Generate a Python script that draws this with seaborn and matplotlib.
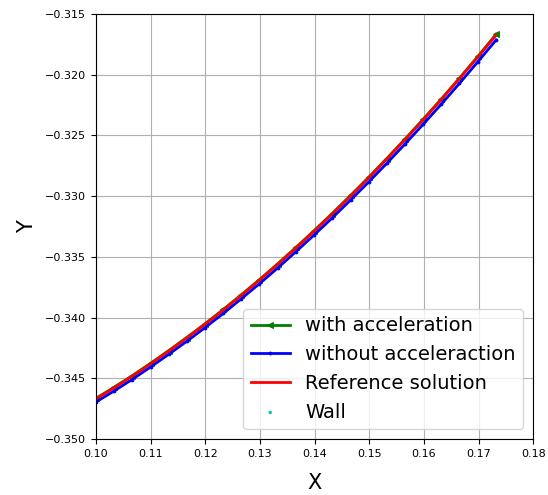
import numpy as np
import matplotlib
import matplotlib.pyplot as plt
import seaborn as sns

plt.switch_backend("Agg")

# 轨迹坐标
x_vals = [0.0966, 0.1000, 0.1033, 0.1066, 0.1100, 0.1133, 0.1166, 0.1199,
          0.1233, 0.1266, 0.1299, 0.1333, 0.1366, 0.1399, 0.1432, 0.1466,
          0.1499, 0.1532, 0.1566, 0.1599, 0.1632, 0.1665, 0.1699, 0.1732]

y_accel = [-0.34755, -0.34665, -0.34574, -0.34479, -0.34376, -0.34272, -0.34164, -0.34053,
           -0.33933, -0.33812, -0.33688, -0.33555, -0.33422, -0.33285, -0.33144, -0.32994,
           -0.32845, -0.32691, -0.32528, -0.32366, -0.32200, -0.32029, -0.31849, -0.31668]

y_no_accel = [-0.3479, -0.34695, -0.34605, -0.34510, -0.34407, -0.34303, -0.34196, -0.34085,
              -0.33966, -0.33845, -0.33722, -0.33590, -0.33457, -0.33321, -0.33181, -0.33032,
              -0.32884, -0.32731, -0.32569, -0.32408, -0.32243, -0.32073, -0.31893, -0.31716]

y_ref = [-0.3476, -0.3467, -0.34579, -0.34484, -0.34381, -0.34277, -0.34169, -0.34058,
         -0.33938, -0.33817, -0.33693, -0.33560, -0.33427, -0.33290, -0.33149, -0.32999,
         -0.32850, -0.32696, -0.32533, -0.32371, -0.32205, -0.32034, -0.31854, -0.31676]

# 壁面点在可视范围之外
wall_x = [0.05]
wall_y = [-0.40]

fig = plt.figure(figsize=(5.48, 4.95), dpi=100)
ax = fig.add_axes([0.175, 0.113, 0.798, 0.859])

sns.lineplot(x=x_vals, y=y_accel, sort=False, estimator=None, color="green",
             marker="<", markersize=5, markeredgecolor="green", linewidth=2,
             label="with acceleration", ax=ax)
sns.lineplot(x=x_vals, y=y_no_accel, sort=False, estimator=None, color="blue",
             marker=".", markersize=4, markeredgecolor="blue", linewidth=2,
             label="without acceleraction", ax=ax)
sns.lineplot(x=x_vals, y=y_ref, sort=False, estimator=None, color="red",
             linewidth=2, label="Reference solution", ax=ax)
sns.scatterplot(x=wall_x, y=wall_y, color="c", s=6, marker="o", edgecolor="none",
                label="Wall", ax=ax)

ax.set_xlim(0.10, 0.18)
ax.set_ylim(-0.350, -0.315)
ax.set_xticks(np.arange(0.10, 0.1801, 0.01))
ax.set_yticks(np.arange(-0.350, -0.3149, 0.005))
ax.xaxis.set_major_formatter(matplotlib.ticker.FormatStrFormatter("%.2f"))
ax.yaxis.set_major_formatter(matplotlib.ticker.FuncFormatter(lambda v, p: f"{v:.3f}".replace("-", "\u2212")))
ax.tick_params(labelsize=8)
ax.grid(True, color="#b0b0b0", linewidth=0.8)
ax.set_xlabel("X", fontsize=15, labelpad=10)
ax.set_ylabel("Y", fontsize=15, labelpad=6)
ax.legend(loc="lower right", fontsize=14)

fig.savefig("out.png", dpi=100)
